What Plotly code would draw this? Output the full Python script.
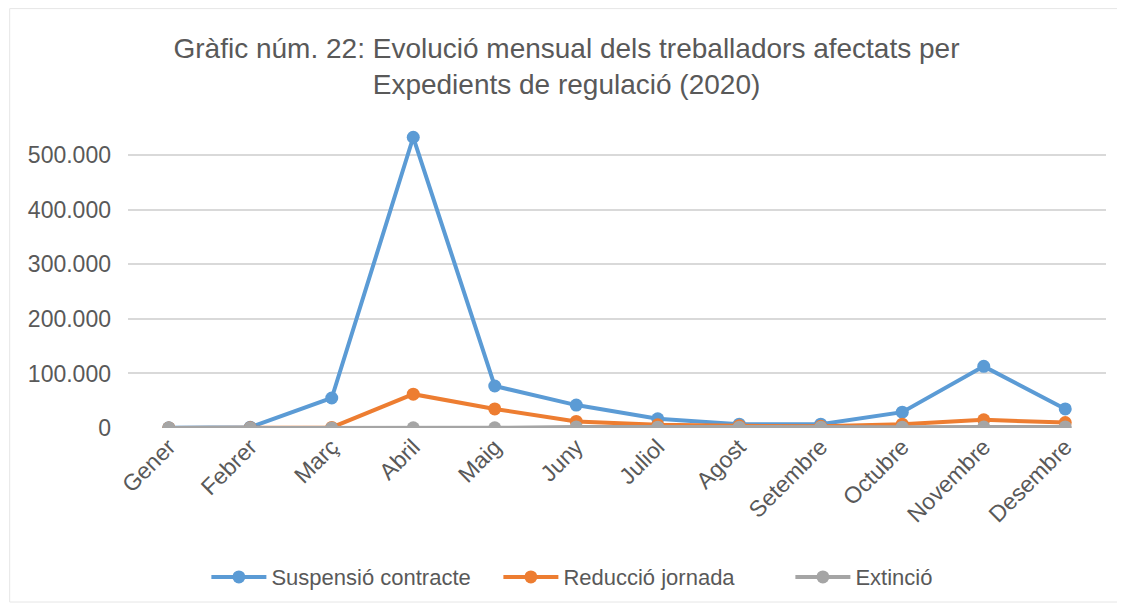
"""Monthly evolution of workers affected by regulation files (2020)."""

import plotly.graph_objects as go

MONTHS = [
    "Gener", "Febrer", "Març", "Abril", "Maig", "Juny",
    "Juliol", "Agost", "Setembre", "Octubre", "Novembre", "Desembre",
]
SUSPENSIO = [500, 1500, 55000, 533000, 77000, 42000, 17000, 7000, 7000, 29000, 113000, 35000]
REDUCCIO = [200, 300, 1000, 62000, 35000, 12000, 6000, 4000, 3000, 7000, 15000, 10000]
EXTINCIO = [100, 100, 200, 300, 300, 2000, 1500, 1500, 1500, 1500, 2000, 2000]
Y_TICKS = [0, 100000, 200000, 300000, 400000, 500000]
Y_TICK_TEXT = ["0", "100.000", "200.000", "300.000", "400.000", "500.000"]

SERIES = [
    ("Suspensió contracte", SUSPENSIO, "#5b9bd5"),
    ("Reducció jornada", REDUCCIO, "#ed7d31"),
    ("Extinció", EXTINCIO, "#a5a5a5"),
]

FONT = "Liberation Sans, Arial, sans-serif"
GREY = "#595959"

fig = go.Figure()
for name, values, color in SERIES:
    fig.add_trace(
        go.Scatter(
            x=MONTHS,
            y=values,
            name=name,
            mode="lines+markers",
            line=dict(color=color, width=4),
            marker=dict(color=color, size=13),
        )
    )

# the page body has an 8px margin, so the figure is sized to fit the window
fig.update_layout(
    width=1117,
    height=595,
    template="plotly_white",
    paper_bgcolor="white",
    plot_bgcolor="white",
    font=dict(family=FONT, color=GREY),
    title=dict(
        text="Gràfic núm. 22: Evolució mensual dels treballadors afectats per<br>Expedients de regulació (2020)",
        x=0.5,
        xanchor="center",
        y=0.916,
        yanchor="middle",
        font=dict(size=28, color=GREY, family=FONT),
    ),
    margin=dict(l=120, r=19, t=120, b=175, autoexpand=False),
    showlegend=True,
    legend=dict(
        orientation="h",
        x=0.528,
        xanchor="center",
        y=-0.497,
        yanchor="middle",
        font=dict(size=22, color=GREY),
        itemwidth=55,
        entrywidth=222,
        traceorder="normal",
    ),
    shapes=[
        dict(
            type="rect",
            xref="paper",
            yref="paper",
            x0=-0.121,
            x1=1.017,
            y0=-0.58,
            y1=1.398,
            line=dict(color="#e6e6e6", width=1),
            layer="below",
        )
    ],
)
fig.update_xaxes(
    type="category",
    range=[-0.5, 11.5],
    tickangle=-45,
    tickfont=dict(size=23, color=GREY),
    showgrid=False,
    showline=False,
    zeroline=False,
    ticks="",
)
fig.update_yaxes(
    range=[0, 550000],
    tickvals=Y_TICKS,
    ticktext=Y_TICK_TEXT,
    tickfont=dict(size=23, color=GREY),
    gridcolor="#d9d9d9",
    gridwidth=1.5,
    zeroline=False,
    ticks="",
    ticklabelstandoff=16,
)

fig.write_html("out.html")
